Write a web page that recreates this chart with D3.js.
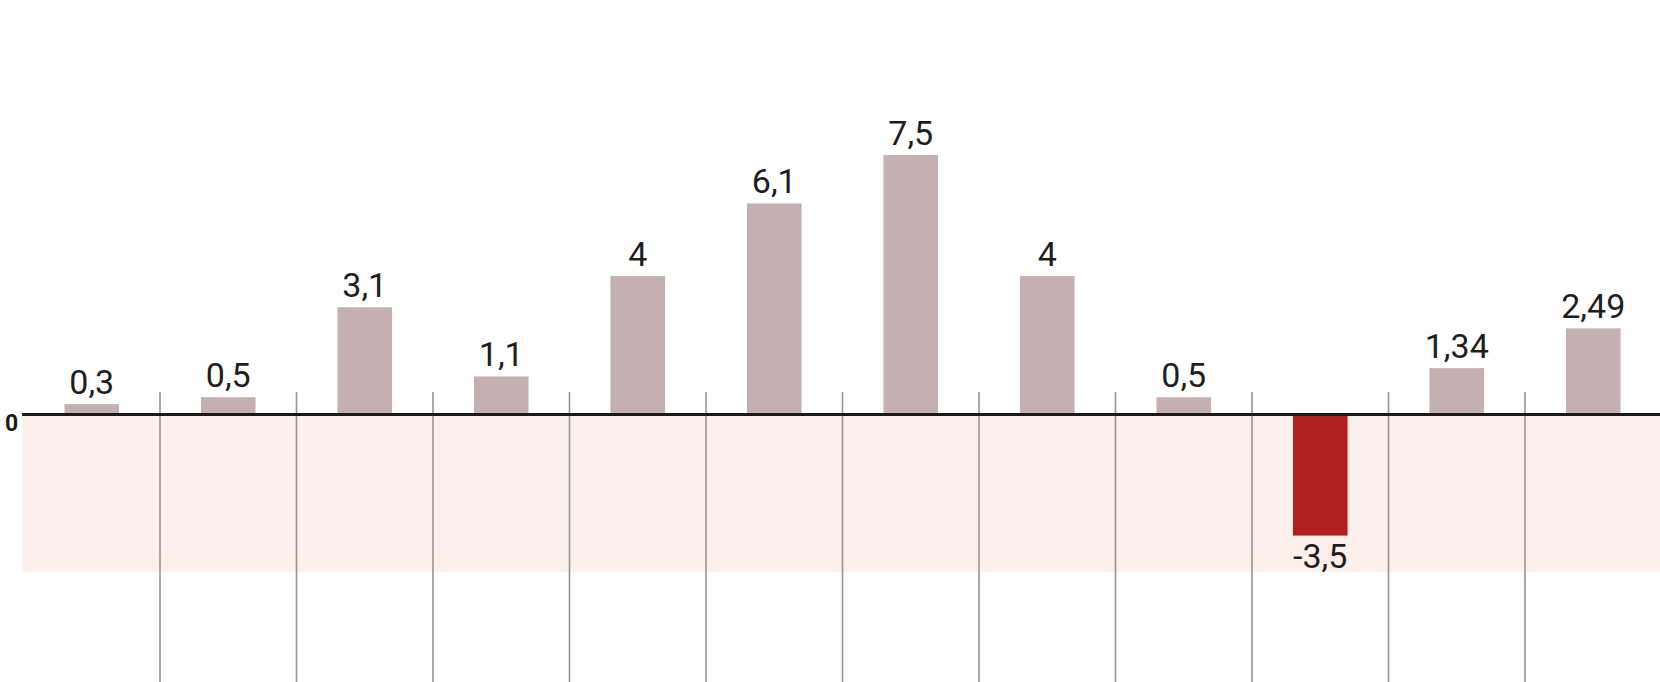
<!DOCTYPE html>
<html>
<head>
<meta charset="utf-8">
<script src="https://cdn.jsdelivr.net/npm/d3@7"></script>
<style>
  html, body { margin: 0; padding: 0; background: #fff; }
  svg { display: block; }
  .val { font-family: Roboto, "Noto Sans", sans-serif; font-weight: 400; font-size: 34px; fill: #1e1e1e; }
  .zero { font-family: Roboto, "Noto Sans", sans-serif; font-weight: 700; font-size: 23px; fill: #1a1a1a; }
</style>
</head>
<body>
<svg id="chart" width="1660" height="682"></svg>
<script>
// Data
const categories = ["1", "2", "3", "4", "5", "6", "7", "8", "9", "10", "11", "12"];
const values = [0.3, 0.5, 3.1, 1.1, 4, 6.1, 7.5, 4, 0.5, -3.5, 1.34, 2.49];
const zeroTickLabels = ["0"];
const shadedZone = [0, -4.55];

const W = 1660, H = 682;
const svg = d3.select("#chart");

const x = d3.scaleBand()
  .domain(categories)
  .range([23.5, 1661.5])
  .paddingInner(0.6)
  .paddingOuter(0.3);

const y = d3.scaleLinear()
  .domain([0, 7.5])
  .range([414.5, 155]);

const step = x.step();

// negative shaded zone
svg.append("rect")
  .attr("x", 22)
  .attr("y", y(shadedZone[0]))
  .attr("width", W - 22)
  .attr("height", y(shadedZone[1]) - y(shadedZone[0]))
  .attr("fill", "#fdefea");

// vertical separators between categories
svg.append("g").selectAll("line")
  .data(categories.slice(1))
  .join("line")
  .attr("x1", d => x(d) - step * 0.3)
  .attr("x2", d => x(d) - step * 0.3)
  .attr("y1", 392)
  .attr("y2", H)
  .attr("stroke", "#959595")
  .attr("stroke-width", 1.6);

// bars
svg.append("g").selectAll("rect")
  .data(values)
  .join("rect")
  .attr("x", (d, i) => x(categories[i]))
  .attr("width", x.bandwidth())
  .attr("y", d => d >= 0 ? y(d) : y(0))
  .attr("height", d => Math.abs(y(d) - y(0)))
  .attr("fill", d => d >= 0 ? "#c5b0b1" : "#b22020");

// zero line
svg.append("line")
  .attr("x1", 22).attr("x2", W)
  .attr("y1", y(0)).attr("y2", y(0))
  .attr("stroke", "#1a1a1a")
  .attr("stroke-width", 3.2);

// zero label
svg.append("g").selectAll("text")
  .data(zeroTickLabels)
  .join("text")
  .attr("class", "zero")
  .attr("x", 11.5)
  .attr("y", y(+zeroTickLabels[0]) + 16)
  .attr("text-anchor", "middle")
  .text(d => d);

// value labels
const fmt = v => String(v).replace(".", ",");
svg.append("g").selectAll("text")
  .data(values)
  .join("text")
  .attr("class", "val")
  .attr("x", (d, i) => x(categories[i]) + x.bandwidth() / 2)
  .attr("y", d => d >= 0 ? y(d) - 10.5 : y(d) + 32.5)
  .attr("text-anchor", "middle")
  .text(d => fmt(d));
</script>
</body>
</html>
